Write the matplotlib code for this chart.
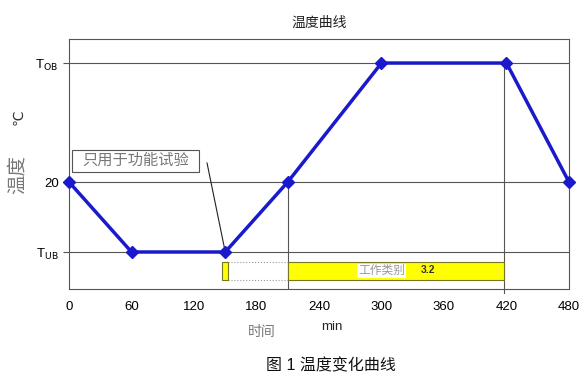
import matplotlib.pyplot as plt
from matplotlib.patches import Rectangle

plt.rcParams['font.family'] = ['Liberation Sans', 'Noto Sans CJK SC', 'DejaVu Sans']

# temperature profile (y in arbitrary units: T_UB, 20, T_OB levels)
t_ub, t_20, t_ob = 37, 107, 226
time_min = [0, 60, 150, 210, 300, 420, 480]
temp = [t_20, t_ub, t_ub, t_20, t_ob, t_ob, t_20]

x_ticks = [0, 60, 120, 180, 240, 300, 360, 420, 480]
y_ticks = [t_ub, t_20, t_ob]
y_labels = ['T$_{\\mathrm{UB}}$', '20', 'T$_{\\mathrm{OB}}$']

# yellow bars: (start, end) in minutes
bars = [(147, 153), (210, 418)]
bar_low, bar_high = 9, 27

fig = plt.figure(figsize=(5.85, 3.79), dpi=100)
ax = fig.add_axes([0.118, 0.2375, 0.8546, 0.6595])
ax.set_xlim(0, 480)
ax.set_ylim(0, 250)

gray = '#555555'
for y in y_ticks:
    ax.axhline(y, color=gray, lw=0.8, zorder=1)
ax.plot([210, 210], [0, t_20], color=gray, lw=0.8, zorder=1)
ax.plot([418, 418], [-4, t_ob], color=gray, lw=0.8, zorder=1, clip_on=False)

for x0, x1 in bars:
    ax.add_patch(Rectangle((x0, bar_low), x1 - x0, bar_high - bar_low,
                           facecolor='#ffff00', edgecolor='#777722', lw=0.8, zorder=2))
ax.plot([153, 210], [bar_high, bar_high], color='#999999', lw=0.8, ls=':', zorder=1)
ax.plot([153, 210], [bar_low, bar_low], color='#999999', lw=0.8, ls=':', zorder=1)
ax.text(300, (bar_low + bar_high) / 2, '工作类别', fontsize=8.5, color='#999999',
        ha='center', va='center',
        bbox=dict(facecolor='white', edgecolor='none', pad=0.5), zorder=3)
ax.text(338, (bar_low + bar_high) / 2 + 1, '3.2', fontsize=7.5, fontweight='bold',
        color='#333333', ha='left', va='center', zorder=3)

ax.plot(time_min, temp, color='#1a1acc', lw=2.5, marker='D', ms=6, zorder=4, clip_on=False)

# note box
ax.add_patch(Rectangle((3, 117), 122, 22, facecolor='white', edgecolor='#555555',
                       lw=0.8, zorder=5))
ax.text(64, 128, '只用于功能试验', fontsize=11, color='#777777', ha='center', va='center',
        zorder=6)
ax.plot([132.5, 150], [126, t_ub], color='#222222', lw=0.8, zorder=3)

ax.set_xticks(x_ticks)
ax.set_yticks(y_ticks)
ax.set_yticklabels(y_labels)
ax.tick_params(axis='x', length=0, labelsize=9.5, pad=9)
ax.tick_params(axis='y', length=4, labelsize=9.5, color=gray)
for s in ax.spines.values():
    s.set_color(gray)
    s.set_linewidth(0.8)

ax.set_title('温度曲线', fontsize=10, color='#222222', pad=9)
fig.text(0.448, 0.125, '时间', fontsize=10, color='#777777', ha='center', va='center')
fig.text(0.568, 0.137, 'min', fontsize=9.5, color='#222222', ha='center', va='center')
fig.text(0.03, 0.54, '温度', fontsize=14, color='#777777', rotation=90, ha='center', va='center')
fig.text(0.032, 0.69, '℃', fontsize=10, color='#333333', rotation=90, ha='center', va='center',
         family=['DejaVu Sans'])
fig.text(0.565, 0.035, '图 1 温度变化曲线', fontsize=11.5, color='#111111', ha='center', va='center')

fig.savefig('out.png', dpi=100)
